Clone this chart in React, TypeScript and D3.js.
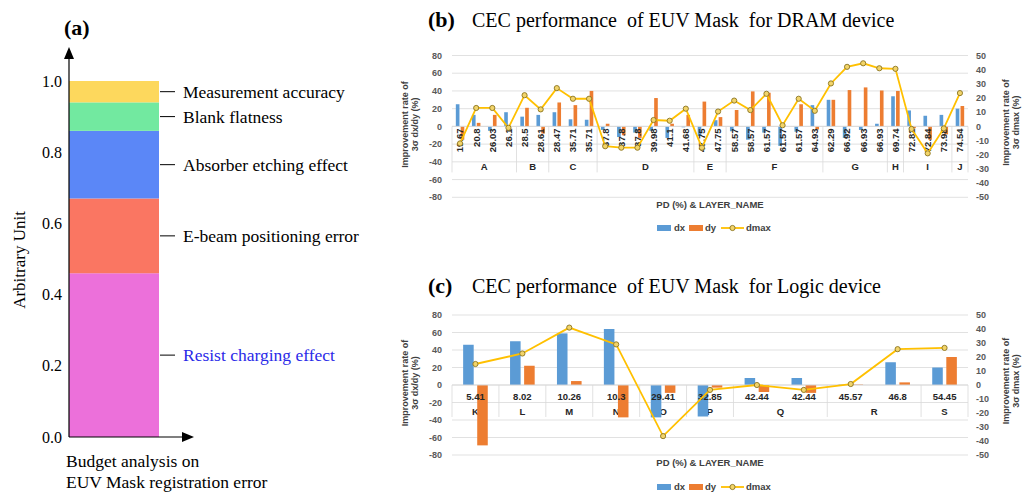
import { useEffect, useRef } from "react";
import * as d3 from "d3";

// (a) budget analysis, stacked from the bottom
const budgetItems = ["Resist charging effect", "E-beam positioning error", "Absorber etching effect", "Blank flatness", "Measurement accuracy"];
const budgetShare = [0.46, 0.21, 0.19, 0.08, 0.06];
const budgetColors = ["#ec70da", "#fa7662", "#5b87f7", "#72e9a0", "#fdd85d"];
const budgetTicks = [0, 0.2, 0.4, 0.6, 0.8, 1.0];

// (b) DRAM device
const dramPD = ["19.67", "20.8", "26.03", "26.1", "28.5", "28.61", "28.47", "35.71", "35.71", "37.8", "37.8", "37.8", "39.98", "41.1", "41.68", "47.75", "47.75", "58.57", "58.57", "61.57", "61.57", "61.57", "64.93", "62.29", "66.92", "66.93", "66.93", "69.74", "72.82", "72.84", "73.98", "74.54"];
const dramLayer = ["A", "A", "A", "A", "B", "B", "C", "C", "C", "D", "D", "D", "D", "D", "D", "E", "E", "F", "F", "F", "F", "F", "F", "G", "G", "G", "G", "H", "I", "I", "I", "J"];
const dramDx = [25, 13, -5, 16, 11, 13, 16, 8, 7.5, -4, -12, -7, -5, -13, -1, -11, 7, -5.5, -15, -7, -22, -6, 24, 30, -13, -4, 3, 34, 18, 12, 13, 20];
const dramDy = [-15, 4, 13, 0, 21, -8, 27, 24, 40, 3, -10, -13, 32, 3, 13, 28, 10.5, 18.5, 39.5, 38, 0, 25, -3.5, 30, 41, 44, 40.5, 40, -2, -15, -9, 23];
const dramDmax = [-12, 13, 13, -1, 22, 12, 27, 19.5, 19.5, -14, -15, -15, 4.5, 4, 12.5, -15, 10.5, 18.2, 11.5, 23, 0.8, 19.5, 11, 30.3, 42, 44.5, 41, 40.6, -1.8, -19, -1.4, 23.5];

// (c) Logic device
const logicPD = ["5.41", "8.02", "10.26", "10.3", "29.41", "32.85", "42.44", "42.44", "45.57", "46.8", "54.45"];
const logicLayer = ["K", "L", "M", "N", "O", "P", "Q", "Q", "R", "R", "S"];
const logicDx = [46, 50, 59, 64, -37, -36, 8, 8, 0.5, 26, 20];
const logicDy = [-69, 22, 4.5, -37, -9, -3, -8, -9, 0.5, 3, 32];
const logicDmax = [15, 22.5, 41, 29, -36.5, -3.5, 0, -3.5, 0.7, 25.6, 26.5];

const serif = "'Liberation Serif', 'Times New Roman', serif";
const sans = "'Liberation Sans', Arial, sans-serif";

type Sel = d3.Selection<SVGSVGElement, unknown, null, undefined>;

function drawCombo(svg: Sel, pd: string[], layer: string[], dx: number[], dy: number[], dmax: number[], top: number, bottom: number, rotated: boolean, tag: string, title: string, titleY: number, legendY: number, xTitleY: number) {
    const g = svg.append("g");
    const x = d3.scaleBand<number>().domain(d3.range(pd.length)).range([452, 968]);
    const yL = d3.scaleLinear().domain([-80, 80]).range([bottom, top]);
    const yR = d3.scaleLinear().domain([-50, 50]).range([bottom, top]);
    const bw = x.bandwidth();
    const zero = yL(0);

    // title
    const t = g.append("text").attr("x", 428).attr("y", titleY).attr("font-family", serif).attr("fill", "#000");
    t.append("tspan").attr("font-weight", "bold").attr("font-size", 22).text(tag);
    t.append("tspan").attr("x", 472).attr("font-size", 20).attr("xml:space", "preserve").text(title);

    // gridlines
    g.append("g")
        .selectAll("line")
        .data(yL.ticks(8))
        .join("line")
        .attr("x1", 452)
        .attr("x2", 968)
        .attr("y1", (d) => yL(d))
        .attr("y2", (d) => yL(d))
        .attr("stroke", "#d9d9d9")
        .attr("stroke-width", 0.8);

    // left ticks
    g.append("g")
        .selectAll("text")
        .data(yL.ticks(8))
        .join("text")
        .attr("x", 442)
        .attr("y", (d) => yL(d))
        .attr("dy", "0.35em")
        .attr("text-anchor", "end")
        .attr("font-family", sans)
        .attr("font-weight", "bold")
        .attr("font-size", 9)
        .attr("fill", "#595959")
        .text((d) => d);

    // right ticks
    g.append("g")
        .selectAll("text")
        .data(yR.ticks(10))
        .join("text")
        .attr("x", 976)
        .attr("y", (d) => yR(d))
        .attr("dy", "0.35em")
        .attr("font-family", sans)
        .attr("font-weight", "bold")
        .attr("font-size", 9)
        .attr("fill", "#595959")
        .text((d) => d);

    // axis titles
    const leftTitle = g.append("text").attr("transform", `translate(409,${(top + bottom) / 2 - 2}) rotate(-90)`).attr("text-anchor", "middle").attr("font-family", sans).attr("font-weight", "bold").attr("font-size", 9).attr("fill", "#404040");
    leftTitle.append("tspan").attr("x", 0).attr("dy", "-0.15em").text("Improvement rate of");
    leftTitle.append("tspan").attr("x", 0).attr("dy", "1.15em").text("3σ dx/dy (%)");
    const rightTitle = g.append("text").attr("transform", `translate(1010,${(top + bottom) / 2 - 4}) rotate(-90)`).attr("text-anchor", "middle").attr("font-family", sans).attr("font-weight", "bold").attr("font-size", 9).attr("fill", "#404040");
    rightTitle.append("tspan").attr("x", 0).attr("dy", "-0.15em").text("Improvement rate of");
    rightTitle.append("tspan").attr("x", 0).attr("dy", "1.15em").text("3σ dmax (%)");

    // multi-level category axis: group separators and group names
    const sepDepth = rotated ? 46 : 32;
    const bounds = [0];
    layer.forEach((l, i) => {
        if (i > 0 && l !== layer[i - 1]) bounds.push(i);
    });
    bounds.push(layer.length);
    const edge = (i: number) => (i < pd.length ? x(i)! : x(pd.length - 1)! + bw);
    g.append("g")
        .selectAll("line")
        .data(bounds)
        .join("line")
        .attr("x1", (d) => edge(d))
        .attr("x2", (d) => edge(d))
        .attr("y1", zero)
        .attr("y2", zero + sepDepth)
        .attr("stroke", "#d9d9d9")
        .attr("stroke-width", 0.8);
    const groupY = rotated ? zero + 40 : zero + 27;
    g.append("g")
        .selectAll("text")
        .data(bounds.slice(0, -1))
        .join("text")
        .attr("x", (d, i) => (edge(d) + edge(bounds[i + 1])) / 2)
        .attr("y", groupY)
        .attr("dy", "0.35em")
        .attr("text-anchor", "middle")
        .attr("font-family", sans)
        .attr("font-weight", "bold")
        .attr("font-size", 9.5)
        .attr("fill", "#262626")
        .text((d) => layer[d]);

    // bars
    const w = bw * 0.225;
    const off = bw * 0.15;
    const series: [number[], string, number][] = [
        [dx, "#5b9bd5", -off],
        [dy, "#ed7d31", off],
    ];
    series.forEach(([vals, color, shift]) => {
        g.append("g")
            .selectAll("rect")
            .data(vals)
            .join("rect")
            .attr("x", (d, i) => x(i)! + bw / 2 + shift - w / 2)
            .attr("y", (d) => Math.min(yL(d), zero))
            .attr("width", w)
            .attr("height", (d) => Math.abs(yL(d) - zero))
            .attr("fill", color);
    });

    // zero axis line
    g.append("line").attr("x1", 452).attr("x2", 968).attr("y1", zero).attr("y2", zero).attr("stroke", "#d9d9d9").attr("stroke-width", 0.9);

    // PD labels (drawn over the bars)
    const pdLabels = g
        .append("g")
        .selectAll("text")
        .data(pd)
        .join("text")
        .attr("font-family", sans)
        .attr("font-weight", "bold")
        .attr("font-size", 9.5)
        .attr("fill", "#262626")
        .attr("dy", "0.35em")
        .text((d) => d);
    if (rotated) {
        pdLabels.attr("transform", (d, i) => `translate(${x(i)! + bw / 2},${zero + 2}) rotate(-90)`).attr("text-anchor", "end");
    } else {
        pdLabels.attr("x", (d, i) => x(i)! + bw / 2).attr("y", zero + 12).attr("text-anchor", "middle");
    }

    // dmax line
    const line = d3
        .line<number>()
        .x((d, i) => x(i)! + bw / 2)
        .y((d) => yR(d));
    g.append("path").attr("d", line(dmax)).attr("fill", "none").attr("stroke", "#ffc000").attr("stroke-width", 1.8);
    g.append("g")
        .selectAll("circle")
        .data(dmax)
        .join("circle")
        .attr("cx", (d, i) => x(i)! + bw / 2)
        .attr("cy", (d) => yR(d))
        .attr("r", 2.6)
        .attr("fill", "#f2d46a")
        .attr("stroke", "#8a7420")
        .attr("stroke-width", 0.9);

    // x title
    g.append("text").attr("x", 710).attr("y", xTitleY).attr("dy", "0.35em").attr("text-anchor", "middle").attr("font-family", sans).attr("font-weight", "bold").attr("font-size", 9.5).attr("fill", "#404040").text("PD (%) & LAYER_NAME");

    // legend
    const lg = g.append("g").attr("font-family", sans).attr("font-weight", "bold").attr("font-size", 9.5).attr("fill", "#404040");
    lg.append("rect").attr("x", 657).attr("y", legendY - 3).attr("width", 14).attr("height", 6).attr("fill", "#5b9bd5");
    lg.append("text").attr("x", 674).attr("y", legendY).attr("dy", "0.35em").text("dx");
    lg.append("rect").attr("x", 689).attr("y", legendY - 3).attr("width", 14).attr("height", 6).attr("fill", "#ed7d31");
    lg.append("text").attr("x", 705).attr("y", legendY).attr("dy", "0.35em").text("dy");
    lg.append("line").attr("x1", 721).attr("x2", 744).attr("y1", legendY).attr("y2", legendY).attr("stroke", "#ffc000").attr("stroke-width", 1.8);
    lg.append("circle").attr("cx", 732.5).attr("cy", legendY).attr("r", 2.6).attr("fill", "#f2d46a").attr("stroke", "#8a7420").attr("stroke-width", 0.9);
    lg.append("text").attr("x", 746).attr("y", legendY).attr("dy", "0.35em").text("dmax");
}

export default function App() {
    const svgRef = useRef<SVGSVGElement>(null);

    useEffect(() => {
        if (!svgRef.current) return;
        const svg = d3.select(svgRef.current);
        svg.selectAll("*").remove();

        // ---------- (a) ----------
        const a = svg.append("g");
        const y = d3.scaleLinear().domain([0, 1]).range([437, 81]);
        const axisX = 69;
        const barRight = 159;
        const stacked = d3.cumsum(budgetShare);

        a.append("text").attr("x", 64).attr("y", 35).attr("font-family", serif).attr("font-weight", "bold").attr("font-size", 22).text("(a)");

        a.append("g")
            .selectAll("rect")
            .data(budgetShare)
            .join("rect")
            .attr("x", axisX)
            .attr("y", (d, i) => y(stacked[i]))
            .attr("width", barRight - axisX)
            .attr("height", (d, i) => y(stacked[i] - d) - y(stacked[i]))
            .attr("fill", (d, i) => budgetColors[i]);

        // axes with arrowheads
        a.append("line").attr("x1", axisX).attr("x2", axisX).attr("y1", y(0)).attr("y2", 58).attr("stroke", "#000").attr("stroke-width", 1.2);
        a.append("path").attr("d", `M${axisX},47 L${axisX - 5},59 L${axisX + 5},59 Z`).attr("fill", "#000");
        a.append("line").attr("x1", axisX).attr("x2", 183).attr("y1", y(0)).attr("y2", y(0)).attr("stroke", "#000").attr("stroke-width", 1.2);
        a.append("path").attr("d", `M194,${y(0)} L182,${y(0) - 5} L182,${y(0) + 5} Z`).attr("fill", "#000");

        a.append("g")
            .selectAll("text")
            .data(budgetTicks)
            .join("text")
            .attr("x", 62)
            .attr("y", (d) => y(d))
            .attr("dy", "0.35em")
            .attr("text-anchor", "end")
            .attr("font-family", serif)
            .attr("font-size", 16)
            .text((d) => d3.format(".1f")(d));

        a.append("text").attr("transform", "translate(25,260) rotate(-90)").attr("text-anchor", "middle").attr("font-family", serif).attr("font-size", 17).text("Arbitrary Unit");

        // leader lines and labels
        const mids = budgetShare.map((d, i) => y(stacked[i] - d / 2));
        a.append("g")
            .selectAll("line")
            .data(mids)
            .join("line")
            .attr("x1", 160)
            .attr("x2", 175)
            .attr("y1", (d) => d)
            .attr("y2", (d) => d)
            .attr("stroke", "#000")
            .attr("stroke-width", 1);
        a.append("g")
            .selectAll("text")
            .data(budgetItems)
            .join("text")
            .attr("x", 183)
            .attr("y", (d, i) => mids[i])
            .attr("dy", "0.35em")
            .attr("font-family", serif)
            .attr("font-size", 17.5)
            .attr("fill", (d, i) => (i === 0 ? "#2a2ae8" : "#000"))
            .text((d) => d);

        a.append("text").attr("x", 66).attr("y", 467).attr("font-family", serif).attr("font-size", 17.5).text("Budget analysis on");
        a.append("text").attr("x", 66).attr("y", 488).attr("font-family", serif).attr("font-size", 17.5).text("EUV Mask registration error");

        // ---------- (b) and (c) ----------
        drawCombo(svg, dramPD, dramLayer, dramDx, dramDy, dramDmax, 55.5, 197.3, true, "(b)", "CEC performance  of EUV Mask  for DRAM device", 27, 228, 205);
        drawCombo(svg, logicPD, logicLayer, logicDx, logicDy, logicDmax, 315, 455, false, "(c)", "CEC performance  of EUV Mask  for Logic device", 293, 487, 463);
    }, []);

    return <svg ref={svgRef} width={1032} height={504} style={{ position: "absolute", left: 0, top: 0, background: "#fff" }} />;
}
